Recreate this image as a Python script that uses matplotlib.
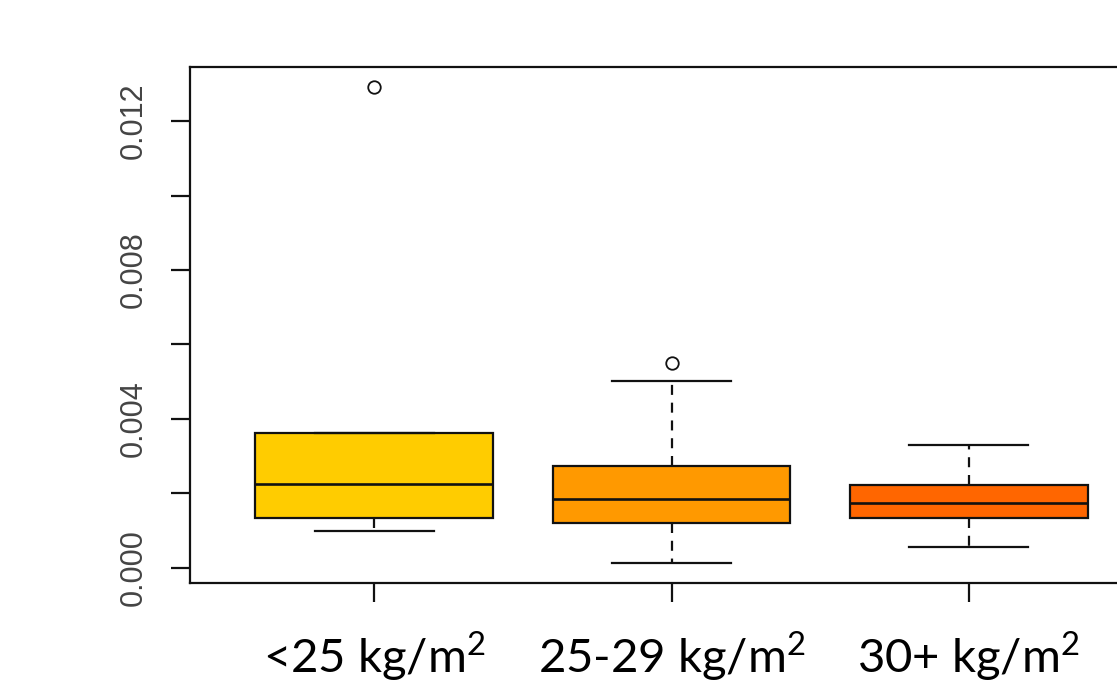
import matplotlib
matplotlib.use("Agg")
import matplotlib.pyplot as plt

plt.rcParams["mathtext.fontset"] = "custom"
plt.rcParams["mathtext.rm"] = "Lato"

# BMI groups and their box statistics
groups = ["<25 kg/m$^2$", "25-29 kg/m$^2$", "30+ kg/m$^2$"]
colors = ["#FFCC00", "#FF9900", "#FF6600"]
whislo = [0.00099, 0.00013, 0.00056]
q1 = [0.00134, 0.00121, 0.00135]
med = [0.00226, 0.00186, 0.00175]
q3 = [0.00362, 0.00275, 0.00222]
whishi = [0.00362, 0.00502, 0.00330]
fliers = [[0.01291], [0.00550], []]

yticks = [0.000, 0.002, 0.004, 0.006, 0.008, 0.010, 0.012]
ylabels = ["0.000", "", "0.004", "", "0.008", "", "0.012"]

W, H = 1117, 690
fig = plt.figure(figsize=(W / 100, H / 100), dpi=100)
# R-style plot region; the right edge runs past the figure
ax = fig.add_axes([190 / W, 1 - 583 / H, (1153 - 190) / W, (583 - 67) / H])

stats = []
for i in range(len(groups)):
    stats.append(dict(whislo=whislo[i], q1=q1[i], med=med[i], q3=q3[i],
                      whishi=whishi[i], fliers=fliers[i]))

bp = ax.bxp(stats, positions=[1, 2, 3], widths=0.8, patch_artist=True,
            boxprops=dict(edgecolor="#111111", linewidth=1.6),
            medianprops=dict(color="#111111", linewidth=1.9),
            whiskerprops=dict(color="#111111", linewidth=1.6, linestyle=(0, (4.5, 3.5))),
            capprops=dict(color="#111111", linewidth=1.6),
            flierprops=dict(marker="o", markersize=9, markerfacecolor="none",
                            markeredgecolor="#111111", markeredgewidth=1.3),
            capwidths=0.4)
for patch, c in zip(bp["boxes"], colors):
    patch.set_facecolor(c)
    patch.set_zorder(1)

ax.set_xlim(0.38, 3.62)
ax.set_ylim(-0.000403, 0.01345)

for s in ax.spines.values():
    s.set_linewidth(1.6)
    s.set_color("#111111")

ax.set_yticks(yticks)
ax.set_yticklabels(ylabels, rotation=90, va="center", family="Liberation Sans",
                   fontsize=22, color="#444444")
ax.tick_params(axis="y", length=13.5, width=1.6, color="#111111", pad=16)

ax.set_xticks([1, 2, 3])
ax.set_xticklabels(groups, family="Lato", fontsize=34, color="black")
ax.tick_params(axis="x", length=13.5, width=1.6, color="#111111", pad=20)

fig.savefig("out.png", dpi=100)
